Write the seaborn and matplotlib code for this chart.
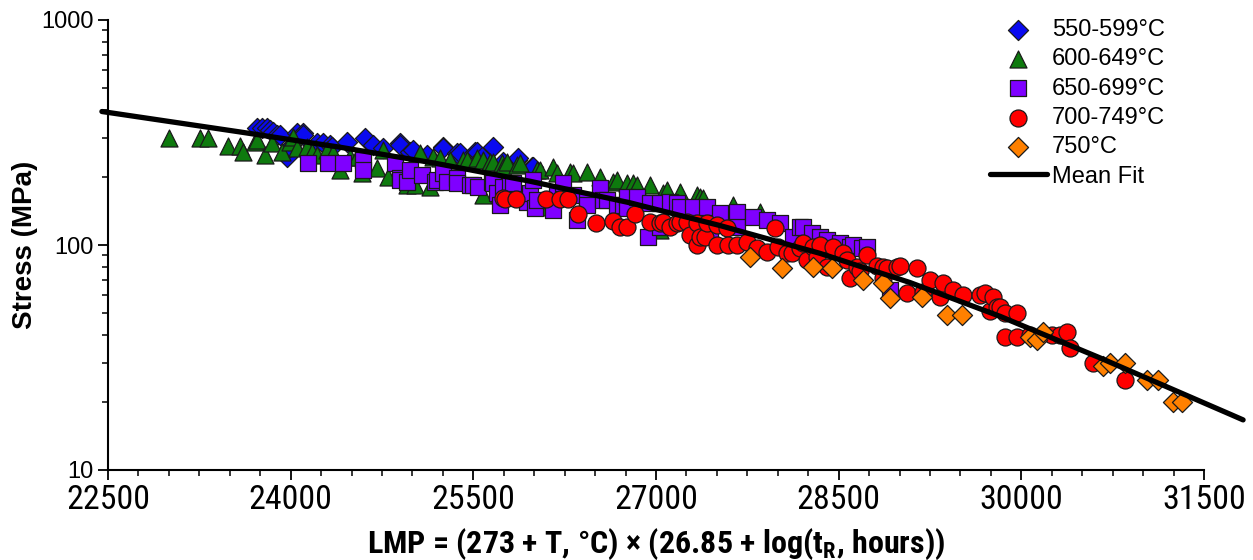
import matplotlib
matplotlib.use("Agg")
import matplotlib.pyplot as plt
from matplotlib.ticker import MultipleLocator, LogLocator, NullFormatter, FixedLocator
import seaborn as sns
import pandas as pd

# ---------------- data ----------------
# LMP values and rupture stress (MPa) per temperature band

lmp_550 = [23724, 23765, 23806, 23830, 23855, 23888, 23912, 23970, 23995, 24052,
           24101, 24101, 24216, 24266, 24323, 24340, 24463, 24610, 24676, 24758,
           24898, 24898, 24980, 25005, 25120, 25251, 25251, 25366, 25391, 25514,
           25530, 25571, 25662, 25744, 25859, 25867, 25982, 25990]
stress_550 = [331, 331, 331, 324, 318, 308, 308, 246, 273, 315,
              315, 308, 284, 284, 278, 273, 287, 299, 278, 270,
              284, 278, 259, 264, 251, 273, 270, 256, 256, 259,
              259, 246, 273, 234, 239, 244, 222, 222]

lmp_600 = [23001, 23256, 23321, 23485, 23584, 23609, 23707, 23724, 23789, 23847,
           23929, 23995, 24019, 24052, 24134, 24175, 24216, 24298, 24348, 24405,
           24487, 24545, 24586, 24709, 24758, 24799, 24955, 25021, 25062, 25144,
           25169, 25226, 25308, 25415, 25448, 25530, 25580, 25580, 25637, 25662,
           25736, 25744, 25777, 25859, 25883, 26023, 26048, 26105, 26154, 26187,
           26294, 26319, 26434, 26540, 26647, 26680, 26762, 26811, 26844, 26951,
           27033, 27058, 27091, 27197, 27337, 27362, 27386, 27633, 27633, 27854]
stress_600 = [299, 299, 299, 275, 275, 259, 287, 293, 251, 284,
              259, 287, 302, 270, 273, 259, 251, 264, 256, 215,
              246, 246, 209, 220, 264, 201, 185, 185, 256, 181,
              246, 244, 239, 239, 239, 244, 239, 167, 234, 234,
              231, 222, 234, 227, 231, 215, 215, 148, 222, 209,
              211, 209, 211, 201, 191, 194, 189, 189, 185, 185,
              117, 170, 176, 172, 167, 163, 162, 148, 151, 140]

lmp_650 = [24142, 24307, 24430, 24594, 24594, 24857, 24898, 24898, 24955, 24980,
           25079, 25185, 25202, 25251, 25284, 25366, 25366, 25473, 25497, 25538,
           25653, 25662, 25694, 25719, 25744, 25801, 25826, 25941, 25965, 25990,
           26006, 26023, 26154, 26187, 26236, 26319, 26351, 26434, 26434, 26540,
           26565, 26598, 26680, 26729, 26762, 26762, 26844, 26934, 26951, 27033,
           27033, 27115, 27173, 27197, 27304, 27419, 27444, 27526, 27665, 27665,
           27797, 27912, 28018, 28125, 28183, 28207, 28281, 28347, 28404, 28511,
           28593, 28618, 28692, 28733, 28922]
stress_650 = [231, 231, 231, 239, 215, 231, 199, 194, 191, 215,
              205, 191, 194, 209, 191, 199, 189, 185, 185, 181,
              191, 189, 170, 151, 181, 189, 189, 155, 170, 194,
              146, 158, 143, 167, 189, 167, 129, 158, 151, 179,
              158, 158, 151, 151, 163, 146, 163, 109, 154, 154,
              120, 155, 154, 148, 148, 148, 117, 139, 140, 120,
              133, 129, 125, 109, 120, 120, 113, 109, 105, 102,
              98, 100, 97, 98, 63]

lmp_700 = [25744, 25760, 25851, 26097, 26212, 26278, 26360, 26507, 26647, 26705,
           26762, 26828, 26951, 27033, 27058, 27115, 27173, 27197, 27255, 27279,
           27337, 27337, 27362, 27403, 27419, 27501, 27501, 27583, 27591, 27665,
           27748, 27830, 27912, 27977, 28002, 28076, 28117, 28183, 28207, 28240,
           28290, 28322, 28347, 28404, 28454, 28536, 28569, 28593, 28651, 28675,
           28733, 28815, 28864, 28864, 28897, 28979, 29004, 29061, 29144, 29193,
           29250, 29332, 29357, 29439, 29521, 29661, 29702, 29743, 29768, 29800,
           29825, 29866, 29866, 29965, 29965, 30072, 30252, 30318, 30375, 30400,
           30589, 30852]
stress_700 = [162, 160, 160, 160, 160, 160, 137, 125, 128, 120,
              120, 137, 126, 125, 127, 120, 125, 127, 127, 111,
              125, 100, 109, 109, 125, 123, 100, 119, 100, 100,
              103, 97, 93, 119, 98, 92, 92, 97, 102, 86,
              98, 88, 100, 80, 98, 92, 86, 71, 80, 77,
              90, 81, 80, 71, 79, 80, 81, 61, 79, 62,
              70, 59, 68, 63, 60, 60, 61, 51, 59, 53,
              53, 50, 39, 50, 39, 40, 40, 40, 41, 35,
              30, 25]

lmp_750 = [27772, 28035, 28290, 28446, 28700, 28864, 28922, 29185, 29390, 29513,
           30072, 30129, 30178, 30671, 30728, 30852, 31032, 31123, 31246, 31320]
stress_750 = [88, 79, 80, 79, 70, 68, 58, 59, 49, 49,
              39, 38, 41, 29, 30, 30, 25, 25, 20, 20]

# mean fit curve
fit_lmp = [22450, 23584, 24405, 25185, 25966, 26787, 27526, 28347, 29086, 29825,
           30646, 31714, 31821]
fit_stress = [392, 318, 272, 231, 192, 154, 122, 91.8, 68.1, 48.2,
              31.5, 17.7, 16.7]

groups = [
    ("550-599°C", lmp_550, stress_550, "D", "#0A0AF0", 105),
    ("600-649°C", lmp_600, stress_600, "^", "#0E7A0E", 150),
    ("650-699°C", lmp_650, stress_650, "s", "#7F00FF", 120),
    ("700-749°C", lmp_700, stress_700, "o", "#FF0000", 150),
    ("750°C", lmp_750, stress_750, "D", "#FF8000", 105),
]

# ---------------- plot ----------------
sns.set_style("ticks")
plt.rcParams['font.family'] = ['Liberation Sans', 'DejaVu Sans']
plt.rcParams['mathtext.fontset'] = 'custom'
plt.rcParams['mathtext.rm'] = 'Roboto Condensed'
plt.rcParams['mathtext.bf'] = 'Roboto Condensed:bold'
plt.rcParams['text.color'] = 'black'
plt.rcParams['axes.labelcolor'] = 'black'

narrow = ['Roboto Condensed', 'DejaVu Sans']

fig = plt.figure(figsize=(12.53, 5.6), dpi=100)
ax = fig.add_axes([108 / 1253, 1 - 470 / 560, 1096 / 1253, 450 / 560])

for label, xs, ys, marker, color, size in groups:
    df = pd.DataFrame({"LMP": xs, "Stress": ys})
    sns.scatterplot(data=df, x="LMP", y="Stress", marker=marker, color=color,
                    s=size, edgecolor="#1a1a1a", linewidth=0.9, label=label,
                    ax=ax, zorder=3)

fit_df = pd.DataFrame({"LMP": fit_lmp, "Stress": fit_stress})
sns.lineplot(data=fit_df, x="LMP", y="Stress", color="black", linewidth=3.8,
             label="Mean Fit", ax=ax, clip_on=False, zorder=4)

# axes
ax.set_yscale("log")
ax.set_ylim(10, 1000)
ax.set_xlim(22500, 31500)
ax.xaxis.set_major_locator(MultipleLocator(1500))
ax.xaxis.set_minor_locator(MultipleLocator(250))
ax.yaxis.set_major_locator(FixedLocator([10, 100, 1000]))
ax.yaxis.set_minor_locator(LogLocator(base=10, subs=range(2, 10)))
ax.yaxis.set_minor_formatter(NullFormatter())
ax.set_yticklabels(["10", "100", "1000"])

for s in ["top", "right"]:
    ax.spines[s].set_visible(False)
for s in ["left", "bottom"]:
    ax.spines[s].set_linewidth(1.5)
    ax.spines[s].set_color("black")
ax.tick_params(axis="both", which="major", direction="out", length=7, width=1.3,
               color="black", labelcolor="black")
ax.tick_params(axis="both", which="minor", direction="out", length=4, width=1.1,
               color="black")
ax.tick_params(axis="y", which="major", labelsize=17)
ax.tick_params(axis="x", which="major", pad=3)
for t in ax.get_xticklabels():
    t.set_fontfamily(narrow)
    t.set_fontsize(24.5)

ax.set_xlabel(r"LMP = (273 + T, °C) × (26.85 + log(t$_\mathbf{R}$, hours))",
              fontsize=23, fontweight="bold", family=narrow, labelpad=8)
ax.set_ylabel("Stress (MPa)", fontsize=20, fontweight="bold", labelpad=2)

leg = ax.legend(loc="upper left", bbox_to_anchor=(990 / 1253, 1 - 19 / 560),
                bbox_transform=fig.transFigure, frameon=False, fontsize=17,
                handlelength=2.4, handletextpad=0.21, labelspacing=0.31,
                borderpad=0, borderaxespad=0)

fig.savefig("out.png", dpi=100)
